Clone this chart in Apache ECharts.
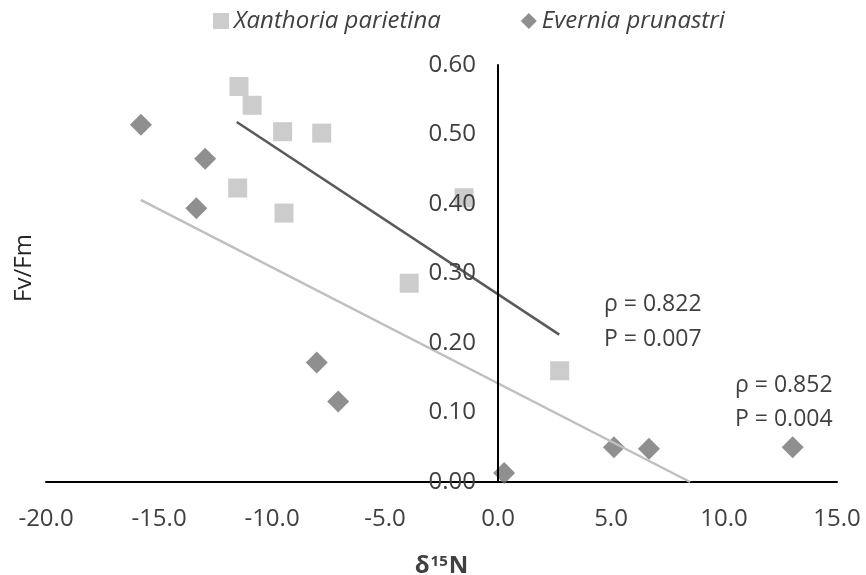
<!DOCTYPE html>
<html>
<head>
<meta charset="utf-8">
<script src="https://cdn.jsdelivr.net/npm/echarts@6/dist/echarts.min.js"></script>
<style>
  html, body { margin: 0; padding: 0; background: #fff; }
  #main { width: 866px; height: 575px; }
</style>
</head>
<body>
<div id="main"></div>
<script>
// Xanthoria parietina: [δ15N, Fv/Fm]
var xanthoria = [
  [-11.46, 0.569], [-10.88, 0.542], [-9.53, 0.504], [-7.80, 0.502],
  [-11.52, 0.423], [-9.47, 0.387], [-1.50, 0.409], [-3.93, 0.286],
  [2.73, 0.160]
]
// Evernia prunastri: [δ15N, Fv/Fm]
var evernia = [
  [-15.8, 0.514], [-12.96, 0.465], [-13.35, 0.394], [-8.02, 0.172],
  [-7.07, 0.116], [0.27, 0.013], [5.13, 0.050], [6.68, 0.048],
  [13.04, 0.050]
]
// trend line end points as drawn
var trendDark = [[-11.56, 0.518], [2.71, 0.212]]
var trendLight = [[-15.81, 0.406], [8.50, 0.0]]

var xTicks = { min: -20, max: 15, step: 5 }
var yTicks = { min: 0, max: 0.6, step: 0.1 }
var stats = [['ρ = 0.822', 'P = 0.007'], ['ρ = 0.852', 'P = 0.004']]

var FONT = 'Open Sans'
var TXT = '#404040'

function scatterChart () {
  var myChart = echarts.init(document.getElementById('main'))
  var option
  option = {
    animation: false,
    textStyle: { fontFamily: FONT },
    legend: {
      left: 208,
      top: 4,
      itemGap: 80,
      itemWidth: 16,
      itemHeight: 16,
      textStyle: { fontFamily: FONT, fontSize: 24, fontStyle: 'italic', color: TXT },
      data: [
        { name: 'Xanthoria parietina', icon: 'rect' },
        { name: 'Evernia prunastri', icon: 'diamond' }
      ]
    },
    grid: {
      left: 46,
      right: 29,
      top: 65,
      bottom: 93,
      containLabel: false,
      outerBoundsMode: 'none'
    },
    xAxis: {
      type: 'value',
      min: xTicks.min,
      max: xTicks.max,
      interval: xTicks.step,
      name: '{a|δ}{b|15}{a|N}',
      nameLocation: 'middle',
      nameGap: 72,
      nameTextStyle: {
        rich: {
          a: { fontFamily: FONT, fontSize: 24, fontWeight: 'bold', color: TXT },
          b: { fontFamily: FONT, fontSize: 15, fontWeight: 'bold', color: TXT, verticalAlign: 'top', padding: [0, 1, 10, 1] }
        }
      },
      axisLine: { onZero: false, lineStyle: { color: '#000', width: 2 } },
      axisTick: { show: false },
      splitLine: { show: false },
      axisLabel: {
        fontSize: 24,
        color: TXT,
        margin: 25,
        formatter: function (v) { return v.toFixed(1) }
      }
    },
    yAxis: {
      type: 'value',
      min: yTicks.min,
      max: yTicks.max,
      interval: yTicks.step,
      position: 'left',
      offset: -452,
      z: 10,
      axisLine: { onZero: false, lineStyle: { color: '#000', width: 2 } },
      axisTick: { show: false },
      splitLine: { show: false },
      axisLabel: {
        fontSize: 24,
        color: TXT,
        margin: 22,
        formatter: function (v) { return v.toFixed(2) }
      }
    },
    graphic: [
      {
        type: 'text',
        x: 24,
        y: 268,
        rotation: Math.PI / 2,
        style: { text: 'Fv/Fm', font: '24px "' + FONT + '"', fill: '#262626', align: 'center', verticalAlign: 'middle' }
      },
      {
        type: 'text',
        left: 604,
        top: 287,
        style: { text: stats[0].join('\n'), font: '23px "' + FONT + '"', fill: TXT, lineHeight: 35 }
      },
      {
        type: 'text',
        left: 735,
        top: 368,
        style: { text: stats[1].join('\n'), font: '23px "' + FONT + '"', fill: TXT, lineHeight: 34 }
      }
    ],
    series: [
      {
        name: 'Xanthoria parietina',
        type: 'scatter',
        symbol: 'rect',
        symbolSize: 19,
        itemStyle: { color: '#bfbfbf' },
        data: xanthoria
      },
      {
        name: 'Evernia prunastri',
        type: 'scatter',
        symbol: 'diamond',
        symbolSize: 22,
        itemStyle: { color: '#737373' },
        data: evernia
      },
      {
        name: 'trend1',
        type: 'line',
        showSymbol: false,
        lineStyle: { color: '#595959', width: 2.5 },
        data: trendDark
      },
      {
        name: 'trend2',
        type: 'line',
        showSymbol: false,
        lineStyle: { color: '#bfbfbf', width: 2.5 },
        data: trendLight
      }
    ]
  }
  option && myChart.setOption(option)
}

scatterChart()
</script>
</body>
</html>
